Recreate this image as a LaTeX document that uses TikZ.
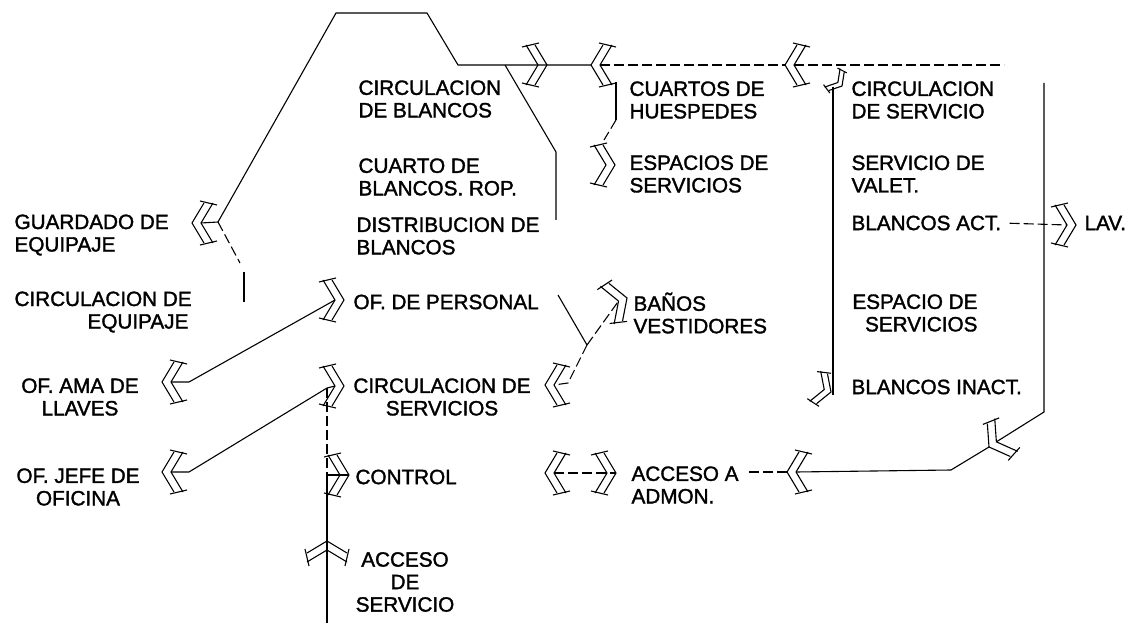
\documentclass[tikz,border=0pt]{standalone}
\usepackage{fontspec}
\setmainfont{Liberation Sans}[BoldFont=Liberation Sans,BoldFeatures={FakeBold=1.6}]

\begin{document}
\begin{tikzpicture}[x=1pt,y=-1pt,line width=1.1pt,
  lbl/.style={inner sep=0pt,font=\fontsize{20.7}{22.5}\selectfont\bfseries},
  broken/.style={dash pattern=on 10pt off 4pt},
  door/.pic={
    \draw (-12,-20) -- (0,0) -- (-12,20);
    \draw (-21,-20) -- (-9,0) -- (-21,20);
    \draw (-8,-22) -- (-25,-18);
    \draw (-8,22) -- (-25,18);
    \coordinate (-tip) at (0,0);
    \coordinate (-back) at (-9,0);
  }]
\useasboundingbox (0,0) rectangle (1132,628);
% Relaciones de servicio
\node[lbl,anchor=west,align=left] (guardado) at (14,235) {GUARDADO DE\\EQUIPAJE};
\node[lbl,anchor=west,align=left] (circequipaje) at (14,312) {CIRCULACION DE\\\hspace*{73pt}EQUIPAJE};
\node[lbl,align=center] (amallaves) at (80,397) {OF. AMA DE\\LLAVES};
\node[lbl,align=center] (jefe) at (78,487) {OF. JEFE DE\\OFICINA};
\node[lbl,anchor=west,align=left] (circblancos) at (358,99) {CIRCULACION\\DE BLANCOS};
\node[lbl,anchor=west,align=left] (cuartoblancos) at (358,177) {CUARTO DE\\BLANCOS. ROP.};
\node[lbl,anchor=west,align=left] (distblancos) at (356,236) {DISTRIBUCION DE\\BLANCOS};
\node[lbl,anchor=west] (ofpersonal) at (353,302) {OF. DE PERSONAL};
\node[lbl,align=center] (circservicios) at (442,397) {CIRCULACION DE\\SERVICIOS};
\node[lbl,anchor=west] (control) at (355,477) {CONTROL};
\node[lbl,align=center] (accservicio) at (405,582) {ACCESO\\DE\\SERVICIO};
\node[lbl,anchor=west,align=left] (huespedes) at (629,100) {CUARTOS DE\\HUESPEDES};
\node[lbl,anchor=west,align=left] (espservicios) at (629,174) {ESPACIOS DE\\SERVICIOS};
\node[lbl,anchor=west,align=left] (banos) at (633,313) {BAÑOS\\VESTIDORES};
\node[lbl,anchor=west,align=left] (admon) at (631,485) {ACCESO A\\ADMON.};
\node[lbl,anchor=west,align=left] (circservicio) at (851,100) {CIRCULACION\\DE SERVICIO};
\node[lbl,anchor=west,align=left] (valet) at (851,174) {SERVICIO DE\\VALET.};
\node[lbl,anchor=west] (blact) at (851,223) {BLANCOS ACT.};
\node[lbl,anchor=west] (lav) at (1084,223) {LAV.};
\node[lbl,anchor=east,align=right] (espacio) at (978,313) {ESPACIO DE\\SERVICIOS};
\node[lbl,anchor=west] (blinact) at (851,387) {BLANCOS INACT.};

% puertas
\pic[rotate=180] (dguardado) at (192,223) {door};
\pic (dblancos) at (547,65) {door};
\pic[rotate=180] (dhuespedes) at (591,65) {door};
\pic[rotate=180] (dcircserv) at (785,65) {door};
\pic (despacios) at (615,165) {door};
\pic[rotate=-40,scale=.6] (desquina) at (842,86) {door};
\pic[rotate=-20,scale=.8] (dinact) at (831,392) {door};
\pic (dlav) at (1076,225) {door};
\pic[rotate=215] (dbr) at (989,447) {door};
\pic[rotate=180] (dadmon) at (787,472) {door};
\pic (dacceso) at (616,473) {door};
\pic[rotate=180] (dde) at (545,473) {door};
\pic[rotate=180] (dvest) at (545,385) {door};
\pic[rotate=20] (dbanos) at (627,298) {door};
\pic[rotate=180] (dama) at (162,382) {door};
\pic[rotate=180] (djefe) at (162,472) {door};
\pic (dpersonal) at (344,300) {door};
\pic (dcirculacion) at (344,386) {door};
\pic (dcontrol) at (349,475) {door};
\pic[rotate=90] (daccserv) at (327,541) {door};

\coordinate (j1) at (218,222);
\coordinate (t1) at (336,13);
\coordinate (t2) at (427,13);
\coordinate (t3) at (458,65);
\coordinate (b1) at (505,65);
\coordinate (b2) at (556,152);
\coordinate (b3) at (556,220);
\coordinate (e1) at (1004,65);
\coordinate (g1) at (240,263);
\coordinate (g2) at (244,272);
\coordinate (g3) at (244,302);
\coordinate (h1) at (616,82);
\coordinate (h2) at (616,120);
\coordinate (h3) at (604,140);
\coordinate (s1) at (833,87);
\coordinate (s2) at (833,395);
\coordinate (r1) at (1044,83);
\coordinate (r2) at (1044,412);
\coordinate (a1) at (951,470);
\coordinate (k1) at (747,472);
\coordinate (p1) at (189,382);
\coordinate (c1) at (189,472);
\coordinate (o1) at (558,295);
\coordinate (j2) at (587,345);
\coordinate (q1) at (568,383);
\coordinate (j3) at (327,388);
\coordinate (j4) at (327,475);
\coordinate (v1) at (327,623);

\draw (dguardado-back) -- (j1) -- (t1) -- (t2) -- (t3) -- (dblancos-tip) -- (dhuespedes-tip);
\draw[broken] (dhuespedes-back) -- (dcircserv-tip);
\draw[broken] (dcircserv-back) -- (e1);
\draw (b1) -- (b2) -- (b3);
\draw[broken] (j1) -- (g1);
\draw (g2) -- (g3);
\draw (h1) -- (h2);
\draw[broken] (h2) -- (h3);
\draw (s1) -- (s2);
\draw (r1) -- (r2) -- (dbr-back);
\draw (dbr-tip) -- (a1) -- (dadmon-back);
\draw[broken] (dadmon-tip) -- (k1);
\draw[broken,shorten <=8pt] (blact.east) -- (dlav-back);
\draw (dama-back) -- (p1) -- (dpersonal-back);
\draw (dcirculacion-back) -- (j3) -- (c1) -- (djefe-back);
\draw[broken] (j3) -- (j4);
\draw (j4) -- (v1);
\draw (j4) -- (dcontrol-tip);
\draw (o1) -- (j2);
\draw[broken] (j2) -- (dbanos-back);
\draw[broken] (j2) -- (q1) -- (dvest-back);
\draw[broken] (dde-back) -- (dacceso-tip);
\end{tikzpicture}
\end{document}
